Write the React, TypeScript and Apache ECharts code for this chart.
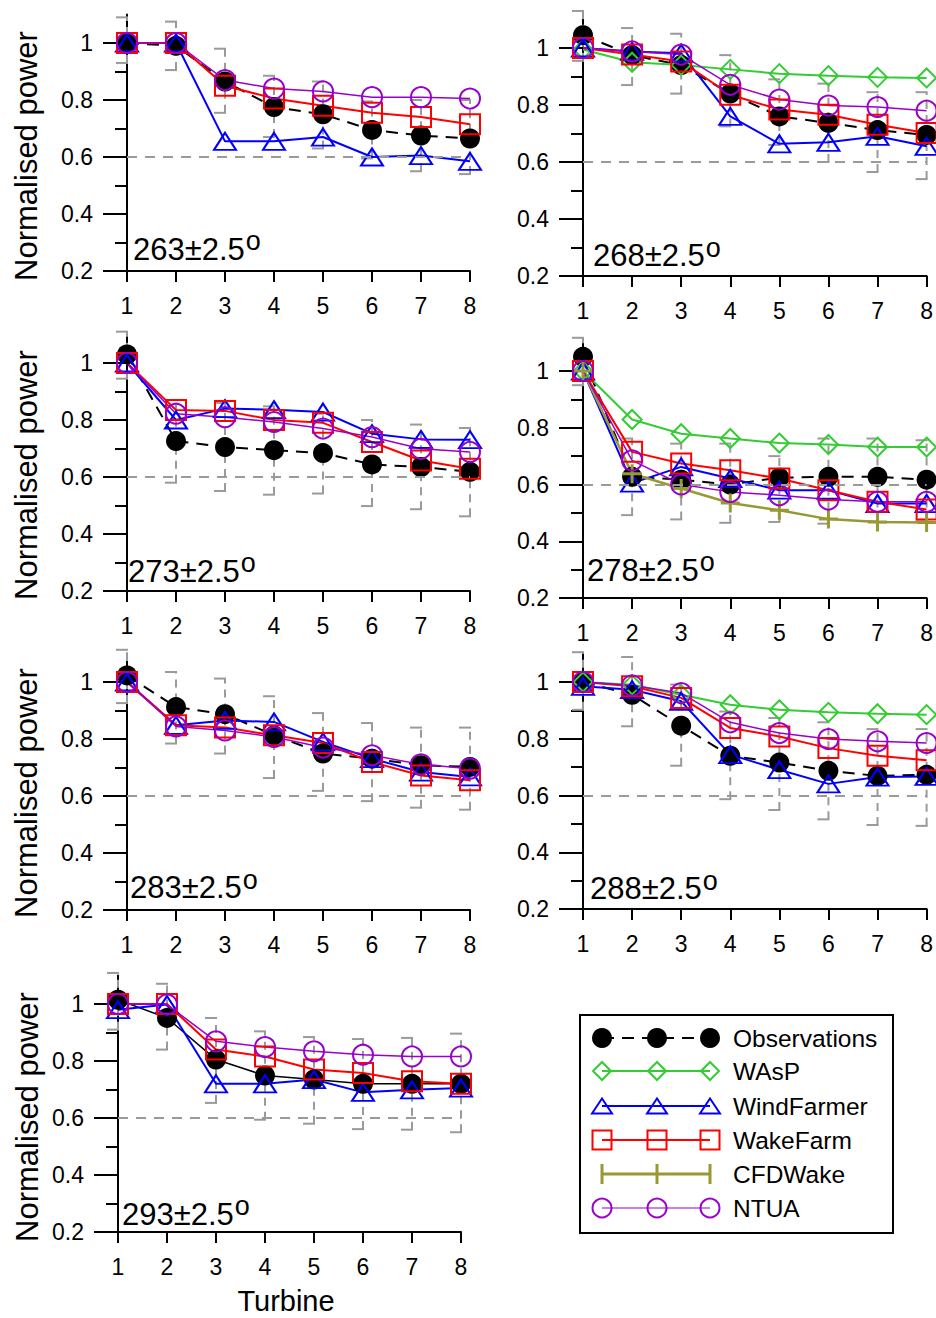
import React, { useEffect, useRef } from 'react';
import * as echarts from 'echarts';

// ---------------- data ----------------
const turbines = [1, 2, 3, 4, 5, 6, 7, 8];
const sectors = ['263', '268', '273', '278', '283', '288', '293'];
const yMajorTicks = [0.2, 0.4, 0.6, 0.8, 1.0];
const yMinorTicks = [0.3, 0.5, 0.7, 0.9];
const legendNames = ['Observations', 'WAsP', 'WindFarmer', 'WakeFarm', 'CFDWake', 'NTUA'];

// 263
const obs263 = [1.0, 0.99, 0.865, 0.775, 0.75, 0.695, 0.675, 0.665];
const errLo263 = [0.93, 0.905, 0.755, 0.67, 0.63, 0.595, 0.55, 0.54];
const errHi263 = [1.09, 1.075, 0.98, 0.885, 0.865, 0.795, 0.8, 0.8];
const wf263 = [1.0, 1.0, 0.655, 0.655, 0.67, 0.6, 0.605, 0.585];
const wk263 = [1.0, 1.0, 0.85, 0.805, 0.78, 0.755, 0.74, 0.715];
const nt263 = [1.0, 1.0, 0.87, 0.84, 0.83, 0.81, 0.81, 0.805];

// 268
const obs268 = [1.045, 0.975, 0.94, 0.84, 0.76, 0.737, 0.712, 0.695];
const errLo268 = [0.955, 0.87, 0.84, 0.725, 0.66, 0.6, 0.565, 0.54];
const errHi268 = [1.13, 1.07, 1.05, 0.975, 0.89, 0.875, 0.845, 0.845];
const wasp268 = [0.995, 0.95, 0.94, 0.925, 0.91, 0.903, 0.897, 0.895];
const wf268 = [1.0, 0.988, 0.982, 0.76, 0.664, 0.669, 0.69, 0.655];
const wk268 = [1.0, 0.977, 0.953, 0.836, 0.784, 0.766, 0.731, 0.702];
const nt268 = [1.0, 0.988, 0.977, 0.871, 0.819, 0.798, 0.793, 0.78];

// 273
const obs273 = [1.03, 0.726, 0.705, 0.694, 0.684, 0.644, 0.635, 0.618];
const errLo273 = [0.945, 0.58, 0.551, 0.538, 0.542, 0.498, 0.487, 0.462];
const errHi273 = [1.11, 0.87, 0.86, 0.848, 0.822, 0.8, 0.784, 0.772];
const wf273 = [1.0, 0.8, 0.84, 0.836, 0.828, 0.752, 0.732, 0.731];
const wk273 = [1.0, 0.835, 0.832, 0.8, 0.79, 0.723, 0.658, 0.629];
const nt273 = [1.0, 0.822, 0.81, 0.793, 0.77, 0.74, 0.699, 0.688];

// 278
const obs278 = [1.05, 0.627, 0.617, 0.6, 0.624, 0.627, 0.627, 0.617];
const errLo278 = [0.95, 0.492, 0.477, 0.465, 0.468, 0.462, 0.47, 0.47];
const errHi278 = [1.117, 0.762, 0.744, 0.744, 0.7, 0.762, 0.762, 0.756];
const wasp278 = [1.0, 0.829, 0.779, 0.762, 0.746, 0.741, 0.732, 0.732];
const wf278 = [1.0, 0.605, 0.662, 0.621, 0.58, 0.58, 0.533, 0.533];
const wk278 = [1.0, 0.715, 0.674, 0.65, 0.621, 0.58, 0.539, 0.512];
const cfd278 = [1.0, 0.638, 0.586, 0.535, 0.509, 0.478, 0.468, 0.466];
const nt278 = [1.0, 0.685, 0.6, 0.574, 0.562, 0.547, 0.539, 0.539];

// 283
const obs283 = [1.023, 0.912, 0.887, 0.813, 0.749, 0.731, 0.708, 0.702];
const errLo283 = [0.926, 0.784, 0.749, 0.663, 0.618, 0.582, 0.559, 0.552];
const errHi283 = [1.113, 1.035, 1.012, 0.95, 0.891, 0.856, 0.84, 0.84];
const wf283 = [1.0, 0.848, 0.865, 0.86, 0.79, 0.731, 0.684, 0.667];
const wk283 = [1.0, 0.848, 0.84, 0.813, 0.786, 0.719, 0.672, 0.655];
const nt283 = [1.0, 0.844, 0.83, 0.807, 0.77, 0.743, 0.711, 0.696];

// 288
const obs288 = [1.0, 0.955, 0.846, 0.74, 0.716, 0.687, 0.669, 0.673];
const errLo288 = [0.902, 0.844, 0.705, 0.587, 0.549, 0.516, 0.496, 0.493];
const errHi288 = [1.105, 1.088, 0.991, 0.896, 0.873, 0.858, 0.834, 0.834];
const wasp288 = [1.0, 0.99, 0.955, 0.92, 0.902, 0.893, 0.888, 0.885];
const wf288 = [0.985, 0.973, 0.932, 0.744, 0.691, 0.641, 0.665, 0.667];
const wk288 = [1.0, 0.985, 0.944, 0.838, 0.808, 0.767, 0.74, 0.724];
const nt288 = [1.0, 0.988, 0.961, 0.858, 0.82, 0.799, 0.791, 0.785];

// 293
const obs293 = [1.015, 0.951, 0.805, 0.749, 0.735, 0.72, 0.72, 0.72];
const errLo293 = [0.91, 0.84, 0.653, 0.594, 0.58, 0.561, 0.559, 0.55];
const errHi293 = [1.109, 1.071, 0.951, 0.904, 0.884, 0.877, 0.881, 0.896];
const wf293 = [0.98, 0.998, 0.72, 0.72, 0.735, 0.69, 0.699, 0.705];
const wk293 = [1.0, 1.0, 0.84, 0.816, 0.77, 0.758, 0.729, 0.72];
const nt293 = [1.0, 0.998, 0.869, 0.849, 0.834, 0.822, 0.816, 0.816];

type Panel = {
  sector: string;
  obs: number[]; lo: number[]; hi: number[];
  wasp?: number[]; wf?: number[]; wk?: number[]; cfd?: number[]; nt?: number[];
  obsDashed: boolean;
};

const panels: Panel[] = [
  { sector: sectors[0], obs: obs263, lo: errLo263, hi: errHi263, wf: wf263, wk: wk263, nt: nt263, obsDashed: true },
  { sector: sectors[1], obs: obs268, lo: errLo268, hi: errHi268, wasp: wasp268, wf: wf268, wk: wk268, nt: nt268, obsDashed: true },
  { sector: sectors[2], obs: obs273, lo: errLo273, hi: errHi273, wf: wf273, wk: wk273, nt: nt273, obsDashed: true },
  { sector: sectors[3], obs: obs278, lo: errLo278, hi: errHi278, wasp: wasp278, wf: wf278, wk: wk278, cfd: cfd278, nt: nt278, obsDashed: true },
  { sector: sectors[4], obs: obs283, lo: errLo283, hi: errHi283, wf: wf283, wk: wk283, nt: nt283, obsDashed: true },
  { sector: sectors[5], obs: obs288, lo: errLo288, hi: errHi288, wasp: wasp288, wf: wf288, wk: wk288, nt: nt288, obsDashed: true },
  { sector: sectors[6], obs: obs293, lo: errLo293, hi: errHi293, wf: wf293, wk: wk293, nt: nt293, obsDashed: false },
];

// ---------------- layout / style ----------------
const W = 936;
const H = 1318;
const FONT = '"Liberation Sans", Arial, Helvetica, sans-serif';
const layouts = [
  { l: 127, r: 470, y1: 43, y02: 271, titleY: 156, ax: 133, ay: 249 },
  { l: 583, r: 927, y1: 48, y02: 276, titleY: 0, ax: 593, ay: 255.5 },
  { l: 127, r: 470, y1: 363, y02: 591, titleY: 475, ax: 128, ay: 571 },
  { l: 583, r: 927, y1: 371, y02: 598, titleY: 0, ax: 587, ay: 570 },
  { l: 127, r: 470, y1: 682, y02: 910, titleY: 793, ax: 130, ay: 887.5 },
  { l: 583, r: 927, y1: 682, y02: 909, titleY: 0, ax: 590, ay: 888.5 },
  { l: 118, r: 461, y1: 1004, y02: 1232, titleY: 1117, ax: 122, ay: 1214 },
];

const C_OBS = '#000000';
const C_WASP = '#33cc33';
const C_WF = '#0000ff';
const C_WK = '#ff0000';
const C_CFD = '#999933';
const C_NT = '#9900cc';
const C_GREY = '#9a9a9a';
const HOLLOW = 'rgba(255,255,255,0)';
const PLUS = 'path://M10,0L10,20M0,10L20,10';

function measure(text: string, font: string): number {
  const c = document.createElement('canvas');
  const ctx = c.getContext('2d');
  if (!ctx) return text.length * 16;
  ctx.font = font;
  return ctx.measureText(text).width;
}

function buildOption() {
  const grid: any[] = [];
  const xAxis: any[] = [];
  const yAxis: any[] = [];
  const series: any[] = [];
  const graphic: any[] = [];

  panels.forEach((p, i) => {
    const L = layouts[i];
    const top = L.y02 - ((L.y02 - L.y1) * 0.9) / 0.8;
    grid.push({ left: L.l, top, width: L.r - L.l, height: L.y02 - top, containLabel: false });
    xAxis.push({
      gridIndex: i, type: 'value', min: 1, max: 8, interval: 1,
      axisLine: { show: true, onZero: false, lineStyle: { color: '#000', width: 2 } },
      axisTick: { show: true, inside: false, length: 11, lineStyle: { color: '#000', width: 2 } },
      axisLabel: { color: '#000', fontSize: 23, fontFamily: FONT, margin: 23 },
      splitLine: { show: false },
    });
    yAxis.push({
      gridIndex: i, type: 'value', position: 'left', offset: 0, min: 0.2, max: 1.1,
      axisLine: { show: true, onZero: false, lineStyle: { color: '#000', width: 2 } },
      axisTick: { show: true, inside: false, length: 24, customValues: yMajorTicks, lineStyle: { color: '#000', width: 2 } },
      axisLabel: {
        customValues: yMajorTicks, color: '#000', fontSize: 23, fontFamily: FONT, margin: 34,
        formatter: (v: number) => String(Math.round(v * 10) / 10),
      },
      splitLine: { show: false },
    });
    yAxis.push({
      gridIndex: i, type: 'value', position: 'left', offset: 0, min: 0.2, max: 1.1,
      axisLine: { show: false, onZero: false },
      axisTick: { show: true, inside: false, length: 12, customValues: yMinorTicks, lineStyle: { color: '#000', width: 2 } },
      axisLabel: { show: false },
      splitLine: { show: false },
    });

    const xa = i;
    const ya = i * 2;
    const pts = (arr: number[]) => turbines.map((t, j) => [t, arr[j]]);

    series.push({
      type: 'line', name: legendNames[0], xAxisIndex: xa, yAxisIndex: ya, data: pts(p.obs),
      symbol: 'circle', symbolSize: 20, showAllSymbol: true, clip: false, z: 2,
      itemStyle: { color: C_OBS },
      lineStyle: { color: C_OBS, width: p.obsDashed ? 2 : 1.5, type: p.obsDashed ? [12, 8] : 'solid' },
      markLine: {
        silent: true, symbol: 'none', label: { show: false },
        lineStyle: { color: C_GREY, width: 2, type: [10, 8] },
        data: [{ yAxis: 0.6 }],
      },
    });
    series.push({
      type: 'custom', xAxisIndex: xa, yAxisIndex: ya, clip: false, z: 2,
      data: turbines.map((t, j) => [t, p.lo[j], p.hi[j]]),
      encode: { x: 0, y: [1, 2] },
      renderItem: (params: any, api: any) => {
        const x = api.value(0);
        const lo = api.coord([x, api.value(1)]);
        const hi = api.coord([x, api.value(2)]);
        const cap = 11;
        return {
          type: 'group',
          children: [
            { type: 'line', shape: { x1: lo[0], y1: lo[1], x2: hi[0], y2: hi[1] }, style: { stroke: C_GREY, lineWidth: 2, lineDash: [8, 6] } },
            { type: 'line', shape: { x1: hi[0] - cap, y1: hi[1], x2: hi[0] + 1, y2: hi[1] }, style: { stroke: C_GREY, lineWidth: 2 } },
            { type: 'line', shape: { x1: lo[0] - cap, y1: lo[1], x2: lo[0] + 1, y2: lo[1] }, style: { stroke: C_GREY, lineWidth: 2 } },
          ],
        };
      },
    });
    const model = (name: string, arr: number[] | undefined, color: string, symbol: string, size: any, lw: number, bw: number) => {
      if (!arr) return;
      series.push({
        type: 'line', name, xAxisIndex: xa, yAxisIndex: ya, data: pts(arr),
        symbol, symbolSize: size, showAllSymbol: true, clip: false, z: 2,
        itemStyle: { color: HOLLOW, borderColor: color, borderWidth: bw },
        lineStyle: { color, width: lw },
      });
    };
    model(legendNames[1], p.wasp, C_WASP, 'diamond', [19, 19], 2, 2);
    model(legendNames[2], p.wf, C_WF, 'triangle', [22, 17], 2, 2);
    model(legendNames[3], p.wk, C_WK, 'rect', 20, 2, 2);
    model(legendNames[4], p.cfd, C_CFD, PLUS, 19, 2.5, 3);
    model(legendNames[5], p.nt, C_NT, 'circle', 20, 1.5, 2);

    // panel annotation
    const mainFont = `31px ${FONT}`;
    const mainText = `${p.sector}\u00b12.5`;
    const w = measure(mainText, mainFont);
    graphic.push({
      type: 'text', x: L.ax, y: L.ay, z: 10,
      style: { text: mainText, font: mainFont, fill: '#000', textAlign: 'left', textVerticalAlign: 'middle' },
    });
    graphic.push({
      type: 'text', x: L.ax + w + 1, y: L.ay - 8, z: 10,
      style: { text: 'o', font: `27px ${FONT}`, fill: '#000', textAlign: 'left', textVerticalAlign: 'middle' },
    });
    if (L.titleY) {
      graphic.push({
        type: 'text', x: i === 6 ? 27 : 26, y: L.titleY, rotation: Math.PI / 2, z: 10,
        style: { text: 'Normalised power', font: `31px ${FONT}`, fill: '#000', textAlign: 'center', textVerticalAlign: 'middle' },
      });
    }
  });

  // x-axis title
  graphic.push({
    type: 'text', x: 286, y: 1301, z: 10,
    style: { text: 'Turbine', font: `29px ${FONT}`, fill: '#000', textAlign: 'center', textVerticalAlign: 'middle' },
  });

  // legend
  const lg: any[] = [];
  lg.push({ type: 'rect', shape: { x: 580, y: 1015, width: 313, height: 218 }, style: { fill: '#fff', stroke: '#000', lineWidth: 2 } });
  const rows = [1038, 1071, 1106, 1140, 1174, 1208];
  const mx = [602, 657, 710];
  const colors = [C_OBS, C_WASP, C_WF, C_WK, C_CFD, C_NT];
  rows.forEach((ry, k) => {
    const c = colors[k];
    lg.push({
      type: 'line', shape: { x1: mx[0], y1: ry, x2: mx[2], y2: ry },
      style: { stroke: c, lineWidth: k === 5 ? 1.2 : k === 4 ? 3 : 2, lineDash: k === 0 ? [12, 8] : null },
    });
    mx.forEach((x) => {
      if (k === 0) lg.push({ type: 'circle', shape: { cx: x, cy: ry, r: 10 }, style: { fill: c } });
      if (k === 1) lg.push({ type: 'polygon', shape: { points: [[x - 9, ry], [x, ry - 9], [x + 9, ry], [x, ry + 9]] }, style: { fill: 'none', stroke: c, lineWidth: 2 } });
      if (k === 2) lg.push({ type: 'polygon', shape: { points: [[x - 10, ry + 7.5], [x, ry - 7.5], [x + 10, ry + 7.5]] }, style: { fill: 'none', stroke: c, lineWidth: 2 } });
      if (k === 3) lg.push({ type: 'rect', shape: { x: x - 9.5, y: ry - 9.5, width: 19, height: 19 }, style: { fill: 'none', stroke: c, lineWidth: 2 } });
      if (k === 4) {
        lg.push({ type: 'line', shape: { x1: x, y1: ry - 10, x2: x, y2: ry + 10 }, style: { stroke: c, lineWidth: 3 } });
      }
      if (k === 5) lg.push({ type: 'circle', shape: { cx: x, cy: ry, r: 9.5 }, style: { fill: 'none', stroke: c, lineWidth: 2 } });
    });
    lg.push({
      type: 'text', x: 733, y: ry,
      style: { text: legendNames[k], font: `24.5px ${FONT}`, fill: '#000', textAlign: 'left', textVerticalAlign: 'middle' },
    });
  });
  graphic.push({ type: 'group', z: 20, children: lg });

  return {
    animation: false,
    backgroundColor: '#fff',
    textStyle: { fontFamily: FONT },
    grid, xAxis, yAxis, series, graphic,
  };
}

export default function App() {
  const ref = useRef<HTMLDivElement>(null);
  useEffect(() => {
    if (!ref.current) return;
    const chart = echarts.init(ref.current, undefined, { renderer: 'svg' });
    chart.setOption(buildOption() as any);
    return () => chart.dispose();
  }, []);
  return <div ref={ref} style={{ position: 'absolute', left: 0, top: 0, width: W, height: H }} />;
}
